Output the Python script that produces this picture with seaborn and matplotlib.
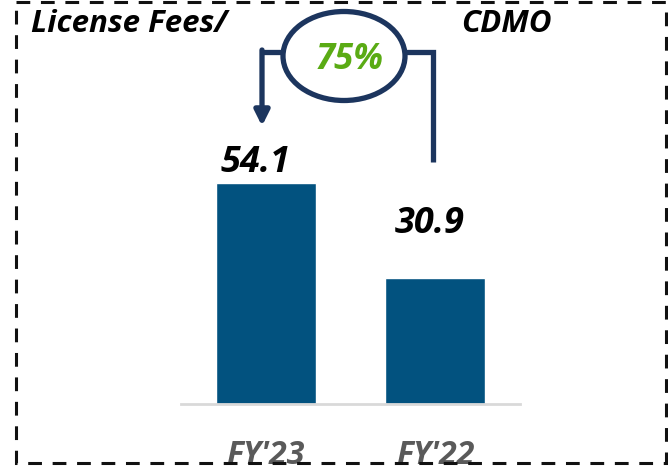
import matplotlib
matplotlib.use("Agg")
import matplotlib.pyplot as plt
from matplotlib.patches import Ellipse, Rectangle, FancyArrowPatch
import seaborn as sns
import pandas as pd

# Revenue, license fees / CDMO (by fiscal year)
periods = ["FY'23", "FY'22"]
revenue = [54.1, 30.9]
growth_label = "75%"
title_left = "License Fees/"
title_right = "CDMO"

BAR = "#02527f"
NAVY = "#1c355e"
GREEN = "#5aab14"
GREY_TXT = "#5a5a5a"
FONT = ["Open Sans", "DejaVu Sans"]

sns.set_theme(style="white")
plt.rcParams["font.family"] = FONT

W, H = 668, 476
fig = plt.figure(figsize=(W / 100, H / 100), dpi=100)

# bar panel in pixel-based placement
ax_l, ax_r, ax_b = 181, 520, 404
ax = fig.add_axes([ax_l / W, (H - ax_b) / H, (ax_r - ax_l) / W, ax_b / H])
df = pd.DataFrame({"period": periods, "revenue": revenue})
sns.barplot(data=df, x="period", y="revenue", color=BAR, width=0.59,
            saturation=1, ax=ax)
ax.set_xlim(-0.5, 1.5)
ax.set_ylim(0, 98.9)
ax.set_xlabel("")
ax.set_ylabel("")
ax.set_yticks([])
ax.set_xticks([])
for s in ["top", "right", "left"]:
    ax.spines[s].set_visible(False)
ax.spines["bottom"].set_color("#d9d9d9")
ax.spines["bottom"].set_linewidth(2)
ax.patch.set_alpha(0)

# value labels above the bars
label_dx = [-0.06, -0.03]
label_dy = [4.9, 13.2]
for i, v in enumerate(revenue):
    ax.text(i + label_dx[i], v + label_dy[i], f"{v:.1f}", ha="center",
            va="center", fontsize=26, fontweight="bold", style="italic",
            color="black", clip_on=False)

# category labels below the axis
for i, p in enumerate(periods):
    ax.text(i, -12.6, p, ha="center", va="center", fontsize=23,
            fontweight="bold", style="italic", color=GREY_TXT, clip_on=False)

# overlay in pixel coordinates for the frame, heading and growth callout
ov = fig.add_axes([0, 0, 1, 1])
ov.set_xlim(0, W)
ov.set_ylim(H, 0)
ov.axis("off")
ov.patch.set_alpha(0)

ov.add_patch(Rectangle((16, 2), 650, 461, fill=False, edgecolor="#111111",
                       linewidth=2.2, linestyle=(0, (4.5, 3.5))))

ov.text(31, 24, title_left, ha="left", va="center", fontsize=22.5,
        fontweight="bold", style="italic", color="black")
ov.text(461, 24, title_right, ha="left", va="center", fontsize=22.5,
        fontweight="bold", style="italic", color="black")

ov.add_patch(Ellipse((344, 56), 122, 89, fill=False, edgecolor=NAVY,
                     linewidth=3.8))
ov.text(350, 60, growth_label, ha="center", va="center", fontsize=25,
        fontweight="bold", style="italic", color=GREEN)

# bracket from the callout down to each bar
ov.plot([283, 262], [52, 52], color=NAVY, linewidth=3.8,
        solid_capstyle="butt")
ov.add_patch(FancyArrowPatch((262, 50), (262, 126), arrowstyle="-|>",
                             mutation_scale=22, color=NAVY, linewidth=3.8,
                             shrinkA=0, shrinkB=0))
ov.plot([405, 433, 433], [52, 52, 162], color=NAVY, linewidth=3.8,
        solid_capstyle="butt", solid_joinstyle="miter")

fig.savefig("out.png", dpi=100, facecolor="white")
